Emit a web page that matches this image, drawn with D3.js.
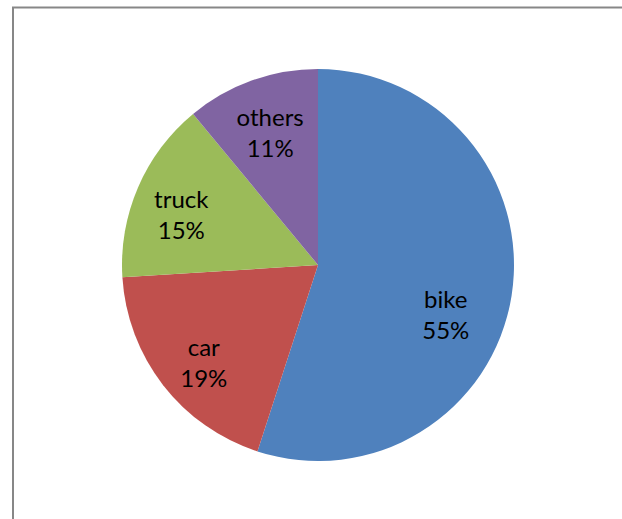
<!DOCTYPE html>
<html>
<head>
<meta charset="utf-8">
<script src="https://cdn.jsdelivr.net/npm/d3@7"></script>
<style>
  body { margin: 0; background: #fff; }
  svg { display: block; }
  .label { font-family: Lato, "Open Sans", sans-serif; font-size: 24px; fill: #000; }
</style>
</head>
<body>
<div id="chart"></div>
<script>
const categories = ['bike', 'car', 'truck', 'others'];
const shares = [55, 19, 15, 11];
const colors = ['#4F81BD', '#C0504D', '#9BBB59', '#8064A2'];

const width = 622;
const height = 519;
const cx = 318;
const cy = 265;
const radius = 196;

// nudges so labels sit where Excel put them
const labelNudge = {
  bike: [0, 31],
  car: [-12, 20],
  truck: [-18, 2],
  others: [-4, -9],
};

const svg = d3.select('#chart')
  .append('svg')
  .attr('width', width)
  .attr('height', height);

// chart frame (only left and top edges are visible in the picture)
svg.append('rect')
  .attr('x', 13)
  .attr('y', 7.5)
  .attr('width', 700)
  .attr('height', 600)
  .attr('fill', 'none')
  .attr('stroke', '#878787')
  .attr('stroke-width', 2);

const data = categories.map((c, i) => ({ name: c, value: shares[i], color: colors[i] }));

const pie = d3.pie()
  .sort(null)
  .value((d) => d.value);

const arc = d3.arc().innerRadius(0).outerRadius(radius);
const labelArc = d3.arc().innerRadius(radius * 0.66).outerRadius(radius * 0.66);

const g = svg.append('g').attr('transform', `translate(${cx}, ${cy})`);

const arcs = pie(data);

g.selectAll('path')
  .data(arcs)
  .join('path')
  .attr('d', arc)
  .attr('fill', (d) => d.data.color);

const labels = g.selectAll('text')
  .data(arcs)
  .join('text')
  .attr('class', 'label')
  .attr('text-anchor', 'middle')
  .attr('transform', (d) => {
    const [x, y] = labelArc.centroid(d);
    const [dx, dy] = labelNudge[d.data.name];
    return `translate(${x + dx}, ${y + dy})`;
  });

labels.append('tspan')
  .attr('x', 0)
  .attr('y', -8)
  .text((d) => d.data.name);

labels.append('tspan')
  .attr('x', 0)
  .attr('y', 23)
  .text((d) => `${d.data.value}%`);
</script>
</body>
</html>
